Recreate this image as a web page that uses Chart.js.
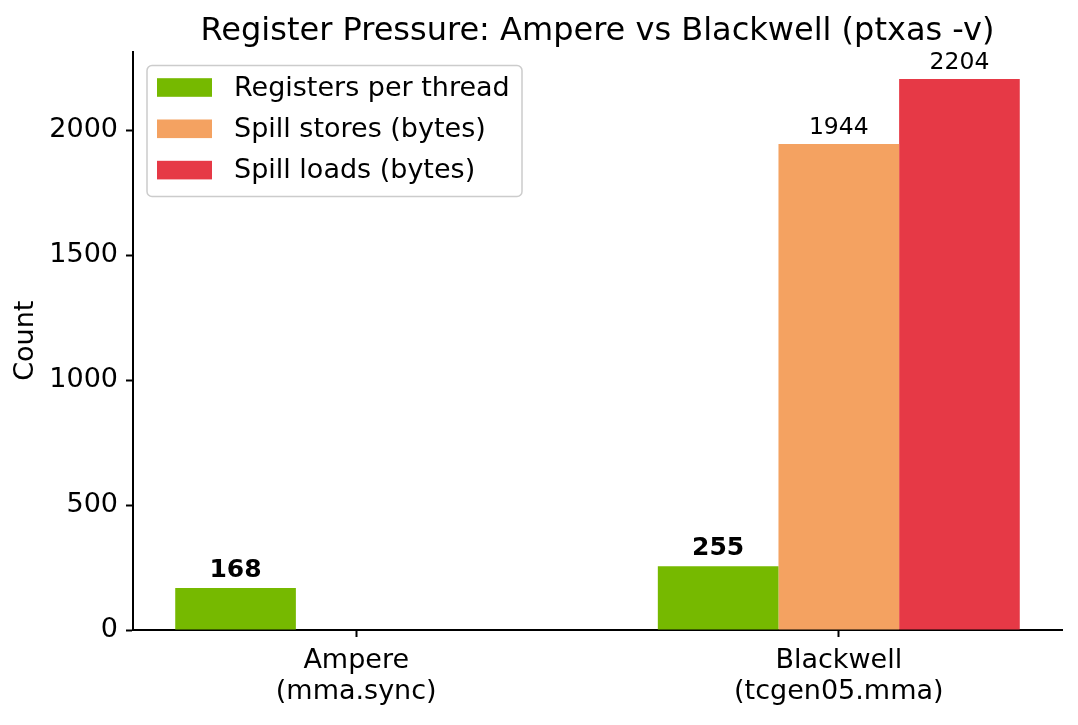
<!DOCTYPE html>
<html>
<head>
<meta charset="utf-8">
<script src="https://cdn.jsdelivr.net/npm/chart.js@4.4.1/dist/chart.umd.min.js"></script>
<style>
  html, body { margin: 0; padding: 0; background: #fff; }
  canvas { display: block; }
</style>
</head>
<body>
<canvas id="chart" width="1078" height="725"></canvas>
<script>
// Register pressure data (ptxas -v)
const categories = [['Ampere', '(mma.sync)'], ['Blackwell', '(tcgen05.mma)']];
const registersPerThread = [168, 255];
const spillStores = [0, 1944];
const spillLoads = [0, 2204];
const yTicks = [0, 500, 1000, 1500, 2000];

const FONT = "'DejaVu Sans', sans-serif";
const TITLE = 'Register Pressure: Ampere vs Blackwell (ptxas -v)';

const series = [
  { label: 'Registers per thread', values: registersPerThread, color: '#76b900', bold: true },
  { label: 'Spill stores (bytes)', values: spillStores, color: '#f4a261', bold: false },
  { label: 'Spill loads (bytes)', values: spillLoads, color: '#e63946', bold: false }
];

const maxVal = Math.max(...registersPerThread, ...spillStores, ...spillLoads);

// title, in-plot legend and value labels
const decorations = {
  id: 'decorations',
  afterDatasetsDraw(chart) {
    const ctx = chart.ctx;
    const area = chart.chartArea;
    ctx.save();

    // title centred over the plot area
    ctx.fillStyle = '#000';
    ctx.font = '32px ' + FONT;
    ctx.textAlign = 'center';
    ctx.textBaseline = 'alphabetic';
    ctx.fillText(TITLE, (area.left + area.right) / 2, 39.5);

    // value labels on the bars
    chart.data.datasets.forEach((ds, di) => {
      const meta = chart.getDatasetMeta(di);
      meta.data.forEach((bar, i) => {
        const v = ds.data[i].y;
        if (!v) return;
        ctx.font = series[di].bold ? 'bold 25px ' + FONT : '23.5px ' + FONT;
        ctx.fillText(String(v), bar.x, bar.y - (series[di].bold ? 11 : 10));
      });
    });

    // legend box
    const lx = 147, ly = 65.5, lw = 375, lh = 131;
    ctx.beginPath();
    ctx.roundRect(lx, ly, lw, lh, 5);
    ctx.fillStyle = 'rgba(255,255,255,0.8)';
    ctx.fill();
    ctx.lineWidth = 1.5;
    ctx.strokeStyle = '#cccccc';
    ctx.stroke();

    ctx.textAlign = 'left';
    ctx.textBaseline = 'middle';
    ctx.font = '27px ' + FONT;
    series.forEach((s, i) => {
      const cy = 87.5 + i * 41.3;
      ctx.fillStyle = s.color;
      ctx.fillRect(157, cy - 9.3, 55, 18.6);
      ctx.fillStyle = '#000';
      ctx.fillText(s.label, 234, cy + 1);
    });
    ctx.restore();
  }
};

new Chart(document.getElementById('chart'), {
  type: 'bar',
  data: {
    datasets: series.map(s => ({
      label: s.label,
      data: s.values.map((v, i) => ({ x: i, y: v })),
      backgroundColor: s.color,
      borderWidth: 0,
      categoryPercentage: 0.75,
      barPercentage: 1
    }))
  },
  options: {
    responsive: false,
    animation: false,
    devicePixelRatio: 1,
    layout: { padding: { top: 51.5, right: 16, left: 0, bottom: 0 } },
    plugins: {
      legend: { display: false },
      title: { display: false },
      tooltip: { enabled: false }
    },
    scales: {
      x: {
        type: 'linear',
        offset: false,
        min: -0.4625,
        max: 1.4625,
        afterBuildTicks: axis => { axis.ticks = categories.map((c, i) => ({ value: i })); },
        afterFit: axis => { axis.height = 95; },
        ticks: {
          callback: v => categories[v],
          color: '#000',
          font: { family: FONT, size: 27, lineHeight: 1.13 },
          padding: 9,
          maxRotation: 0,
          autoSkip: false
        },
        grid: { offset: false, drawOnChartArea: false, drawTicks: true, tickLength: 7, tickColor: '#000', tickWidth: 2 },
        border: { display: true, color: '#000', width: 2 }
      },
      y: {
        min: 0,
        max: maxVal * 1.05,
        afterBuildTicks: axis => { axis.ticks = yTicks.map(v => ({ value: v })); },
        afterFit: axis => { axis.width = 133; },
        ticks: {
          callback: v => String(v),
          color: '#000',
          font: { family: FONT, size: 27 },
          padding: 8
        },
        grid: { drawOnChartArea: false, drawTicks: true, tickLength: 7, tickColor: '#000', tickWidth: 2 },
        border: { display: true, color: '#000', width: 2 },
        title: {
          display: true,
          text: 'Count',
          color: '#000',
          font: { family: FONT, size: 27 },
          padding: { top: 10 }
        }
      }
    }
  },
  plugins: [decorations]
});
</script>
</body>
</html>
